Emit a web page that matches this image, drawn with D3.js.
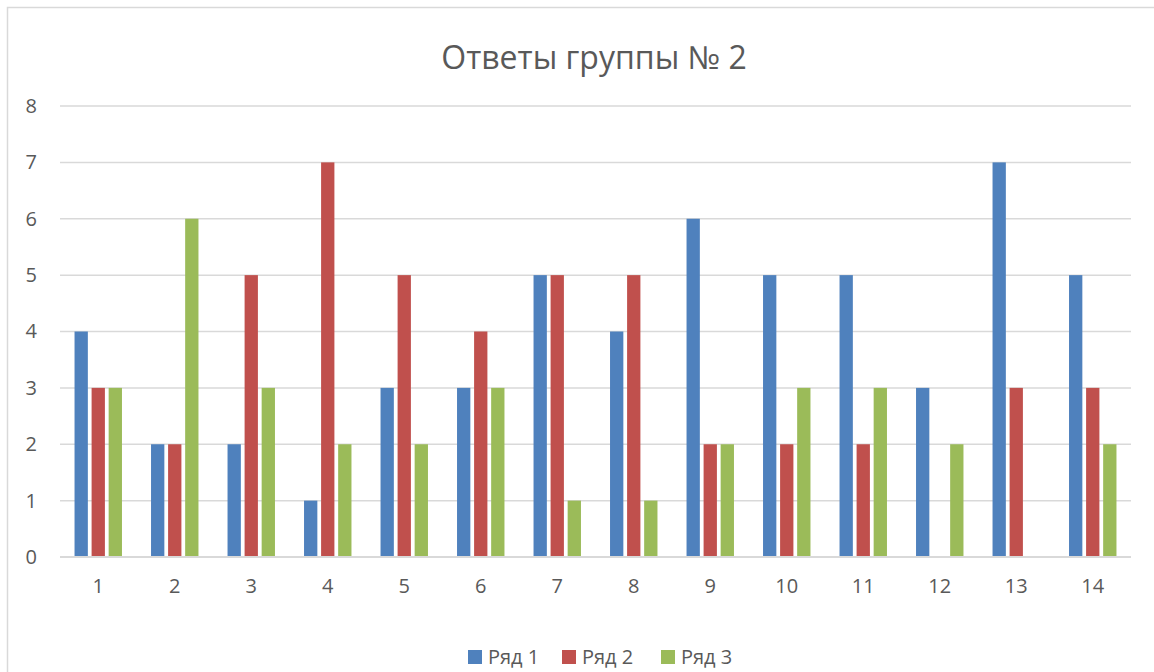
<!DOCTYPE html>
<html>
<head>
<meta charset="utf-8">
<style>
  body { margin: 0; background: #fff; }
  svg text { font-family: "Open Sans", "Noto Sans", sans-serif; fill: #595959; }
</style>
</head>
<body>
<svg width="1154" height="672"></svg>
<script src="https://d3js.org/d3.v7.min.js"></script>
<script>
// chart data
var categories = ["1", "2", "3", "4", "5", "6", "7", "8", "9", "10", "11", "12", "13", "14"];
var seriesNames = ["Ряд 1", "Ряд 2", "Ряд 3"];
var row1 = [4, 2, 2, 1, 3, 3, 5, 4, 6, 5, 5, 3, 7, 5];
var row2 = [3, 2, 5, 7, 5, 4, 5, 5, 2, 2, 2, 0, 3, 3];
var row3 = [3, 6, 3, 2, 2, 3, 1, 1, 2, 3, 3, 2, 0, 2];
var yTicks = [0, 1, 2, 3, 4, 5, 6, 7, 8];
var colors = ["#4f81bd", "#c0504d", "#9bbb59"];

var series = [row1, row2, row3];

var svg = d3.select("svg");

// outer chart border (runs off the right and bottom edges)
svg.append("rect")
  .attr("x", 7.5).attr("y", 7.5)
  .attr("width", 1200).attr("height", 700)
  .attr("fill", "none")
  .attr("stroke", "#d9d9d9")
  .attr("stroke-width", 1.5);

var plotL = 60, plotR = 1131, plotT = 106, plotB = 557;

var x0 = d3.scaleBand().domain(categories).range([plotL, plotR])
  .paddingInner(0.38).paddingOuter(0.19);
var x1 = d3.scaleBand().domain(seriesNames).range([0, x0.bandwidth()])
  .paddingInner(0.22);
var y = d3.scaleLinear().domain([0, 8]).range([plotB, plotT]);

// gridlines
svg.append("g").selectAll("line")
  .data(yTicks)
  .enter().append("line")
  .attr("x1", plotL).attr("x2", plotR)
  .attr("y1", function(d) { return y(d); })
  .attr("y2", function(d) { return y(d); })
  .attr("stroke", "#d9d9d9")
  .attr("stroke-width", function(d) { return d === 0 ? 2 : 1.5; });

// y labels
var yAxis = d3.axisLeft(y).tickValues(yTicks).tickSize(0).tickPadding(0);
var ga = svg.append("g").attr("transform", "translate(37,0)").call(yAxis);
ga.select(".domain").remove();
ga.selectAll("text").style("font-size", "20px").attr("fill", "#595959");

// x labels
var xAxis = d3.axisBottom(x0).tickSize(0).tickPadding(0);
var gx = svg.append("g").attr("transform", "translate(0,579)").call(xAxis);
gx.select(".domain").remove();
gx.selectAll("text").style("font-size", "20px").attr("fill", "#595959");

// bars
var groups = svg.append("g").selectAll("g")
  .data(series)
  .enter().append("g")
  .attr("fill", function(d, i) { return colors[i]; });

groups.each(function(vals, si) {
  d3.select(this).selectAll("rect")
    .data(vals)
    .enter().append("rect")
    .attr("x", function(d, ci) { return x0(categories[ci]) + x1(seriesNames[si]); })
    .attr("width", x1.bandwidth())
    .attr("y", function(d) { return y(d); })
    .attr("height", function(d) { return y(0) - y(d); });
});

// redraw zero line over bars
svg.append("line")
  .attr("x1", plotL).attr("x2", plotR)
  .attr("y1", y(0)).attr("y2", y(0))
  .attr("stroke", "#d9d9d9").attr("stroke-width", 2);

// title
svg.append("text")
  .attr("x", 594).attr("y", 69)
  .attr("text-anchor", "middle")
  .style("font-size", "32px")
  .text("Ответы группы № 2");

// legend
var legendX = [468, 562, 661];
var lg = svg.append("g").selectAll("g")
  .data(seriesNames)
  .enter().append("g")
  .attr("transform", function(d, i) { return "translate(" + legendX[i] + ",650)"; });
lg.append("rect").attr("width", 14).attr("height", 14)
  .attr("fill", function(d, i) { return colors[i]; });
lg.append("text").attr("x", 20).attr("y", 14)
  .style("font-size", "20px")
  .text(function(d) { return d; });
</script>
</body>
</html>
